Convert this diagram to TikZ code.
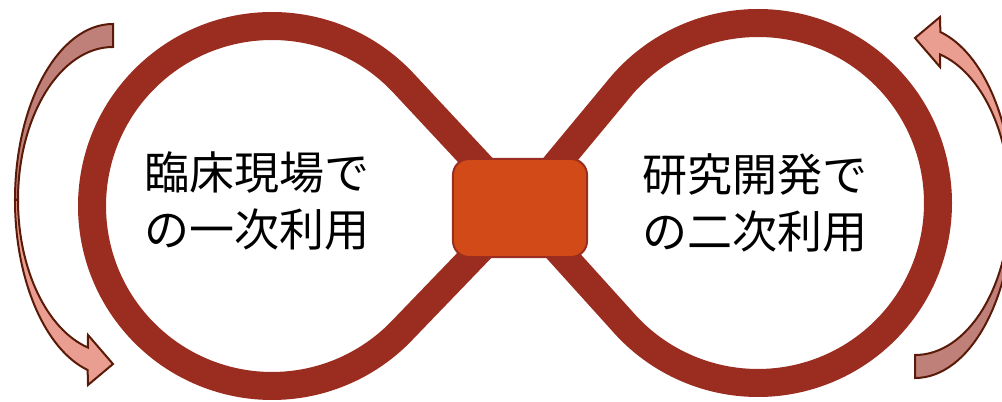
\documentclass[tikz,border=0pt]{standalone}
\usepackage{fontspec}
\newfontfamily\jpfont{Noto Sans CJK JP}
\usetikzlibrary{calc}
\definecolor{loopred}{HTML}{9B2D20}
\definecolor{boxfill}{HTML}{D24A18}
\definecolor{arrdark}{HTML}{C0807A}
\definecolor{arrlight}{HTML}{EA9E92}
\definecolor{arredge}{HTML}{5A1A08}
\tikzset{
  loopline/.style={draw=loopred, line width=0.7cm, line join=round},
  centerbox/.style={draw=loopred, fill=boxfill, line width=0.05cm, rounded corners=0.4cm,
    minimum width=3.35cm, minimum height=2.45cm, inner sep=0pt},
  jptext/.style={font=\jpfont\fontsize{32}{40.4}\selectfont, align=center, inner sep=0pt, text=black},
  arrpart/.style={draw=arredge, line width=0.05cm},
  curvarr/.pic={
    \filldraw[arrpart, fill=arrdark] (90:98 and 176)
      arc[start angle=90, end angle=180, x radius=98, y radius=176]
      -- (180:95 and 153)
      arc[start angle=180, end angle=90, x radius=95, y radius=153] -- cycle;
    \filldraw[arrpart, fill=arrlight] (180:98 and 176)
      arc[start angle=180, end angle=255, x radius=98, y radius=176]
      -- (-25,-185) -- (0,-164) -- (-25,-135)
      -- (254.7:95 and 153)
      arc[start angle=254.7, end angle=180, x radius=95, y radius=153] -- cycle;
  }
}
\begin{document}
\begin{tikzpicture}[x=0.025cm,y=0.025cm]
\useasboundingbox (0,0) rectangle (1002,402);
\clip (0,0) rectangle (1002,402);
\coordinate (L) at (272,196);
\coordinate (R) at (758,199);
\coordinate (C) at (520,194);
\draw[loopline]
  (C) -- ($(L)+(43.5:180)$) arc[start angle=43.5, end angle=316.5, radius=180]
  -- (C) -- ($(R)+(139.1:180)$) arc[start angle=139.1, end angle=-139.1, radius=180] -- cycle;
\node[centerbox] (box) at (520,194) {};
\pic (leftarrow) at (113,202) {curvarr};
\pic[rotate=180] (rightarrow) at (915,200) {curvarr};
\node[jptext] (t1) at (257,201) {臨床現場で\\の一次利用};
\node[jptext] (t2) at (755,199) {研究開発で\\の二次利用};
\end{tikzpicture}
\end{document}
